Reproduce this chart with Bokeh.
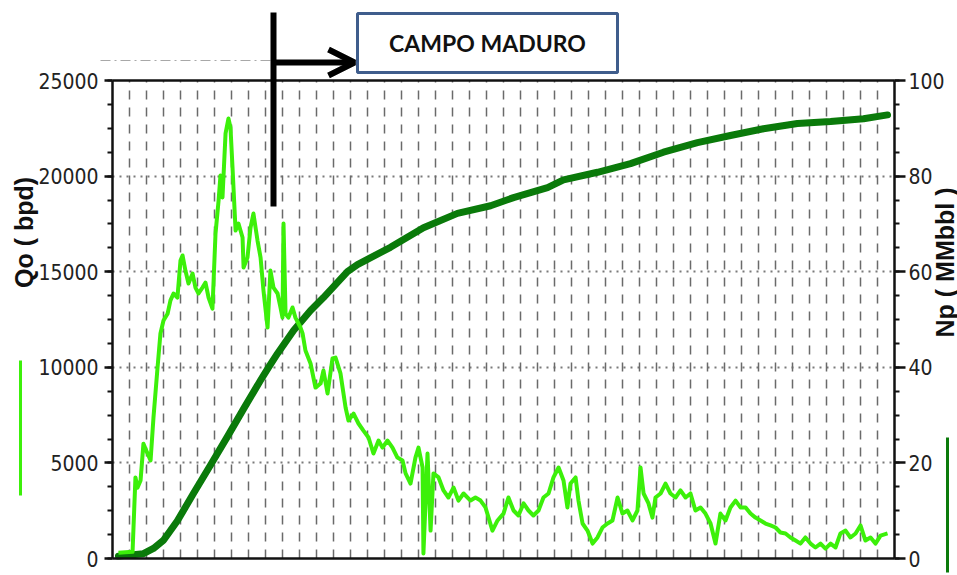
import math
from bokeh.plotting import figure
from bokeh.models import (Range1d, LinearAxis, FixedTicker, Grid, Arrow, OpenHead,
                          BoxAnnotation, Label)
from bokeh.embed import file_html
from bokeh.resources import INLINE

# ---------------- data (time in years from start of production) ----------------
qo_t = [0.35, 1.18, 1.35, 1.47, 1.65, 1.82, 2.06, 2.24, 2.41, 2.65, 2.82, 3.00, 3.24, 3.41,
        3.59, 3.82, 4.00, 4.12, 4.29, 4.47, 4.71, 4.88, 5.06, 5.29, 5.47, 5.65, 5.88, 6.06,
        6.24, 6.35, 6.47, 6.65, 6.82, 6.94, 7.06, 7.24, 7.41, 7.65, 7.71, 7.94, 8.12, 8.29,
        8.53, 8.71, 8.88, 9.12, 9.29, 9.47, 9.71, 9.88, 10.00, 10.06, 10.18, 10.35, 10.59,
        10.76, 11.06, 11.18, 11.35, 11.65, 11.94, 12.24, 12.41, 12.65, 12.94, 13.12, 13.41,
        13.71, 13.88, 14.18, 14.47, 14.76, 15.06, 15.35, 15.65, 15.88, 16.18, 16.47, 16.76,
        17.06, 17.24, 17.53, 17.82, 18.00, 18.24, 18.29, 18.53, 18.71, 18.88, 19.18, 19.47,
        19.76, 20.06, 20.35, 20.65, 21.06, 21.35, 21.65, 21.94, 22.35, 22.65, 23.00, 23.29,
        23.59, 23.88, 24.18, 24.47, 24.76, 25.06, 25.35, 25.65, 25.94, 26.24, 26.53, 26.76,
        26.94, 27.24, 27.41, 27.65, 27.94, 28.24, 28.53, 28.82, 29.12, 29.41, 29.71, 30.00,
        30.29, 30.59, 30.88, 31.06, 31.24, 31.53, 31.76, 31.94, 32.24, 32.53, 32.82, 33.12,
        33.41, 33.71, 34.00, 34.29, 34.59, 34.88, 35.18, 35.47, 35.76, 36.06, 36.35, 36.65,
        36.94, 37.24, 37.53, 37.82, 38.12, 38.41, 38.71, 39.00, 39.29, 39.59, 39.88, 40.18,
        40.47, 40.76, 41.06, 41.35, 41.65, 41.94, 42.24, 42.53, 42.82, 43.12, 43.41, 43.71,
        44.00, 44.29, 44.59, 44.88, 45.18, 45.59]
qo_bpd = [300, 350, 4240, 3700, 4080, 6000, 5490, 5130, 7370, 10000, 11770, 12450, 12800, 13500,
          13860, 13650, 15590, 15850, 15060, 14380, 14900, 14170, 13860, 14170, 14430, 13650, 13070, 17000,
          18720, 20030, 18880, 22230, 23010, 22540, 20450, 17150, 17520, 16790, 15220, 15740, 17310, 18040,
          16630, 15740, 14020, 12080, 15060, 14170, 13860, 13130, 12600, 17520, 12800, 12600, 13130,
          12600, 12080, 11770, 10880, 10200, 8940, 9150, 9830, 8630, 10460, 10510, 9680,
          7900, 7220, 7580, 7060, 6690, 6330, 5490, 6170, 5800, 6170, 5800, 5280,
          5130, 4450, 3920, 5280, 5800, 4760, 260, 5490, 1460, 4450, 4240, 3560,
          3190, 3710, 3030, 3400, 3030, 3190, 3030, 2670, 1460, 1990, 2350, 3190,
          2510, 2250, 2880, 2510, 2250, 2510, 3190, 3400, 4240, 4760, 4080, 2670,
          3920, 4240, 3030, 1830, 1460, 780, 1100, 1620, 1830, 1990, 3190, 2350,
          2510, 1990, 2510, 4760, 3400, 2880, 2140, 3190, 3400, 3920, 3400, 3190,
          3560, 3190, 3400, 2510, 2670, 2350, 1830, 780, 2350, 1990, 2670, 3030,
          2670, 2670, 2350, 2140, 1990, 1830, 1730, 1620, 1360, 1310, 1100, 940,
          780, 1100, 780, 575, 780, 520, 780, 575, 1310, 1460, 1100, 1310,
          1730, 940, 1100, 780, 1200, 1310]

np_t = [0.35, 1.82, 2.41, 3.00, 3.82, 4.76, 5.76, 6.76, 7.71, 8.71, 9.18, 9.71, 10.65, 11.65,
        12.41, 13.82, 14.41, 16.35, 18.29, 20.29, 22.24, 23.59, 25.59, 26.53, 28.53, 30.47,
        32.41, 34.41, 36.35, 38.29, 40.29, 42.24, 44.18, 45.59]
np_mmbbl = [0.5, 1.0, 2.1, 3.8, 7.9, 13.6, 19.5, 25.5, 31.3, 37.3, 40.0, 42.9, 47.7, 51.9,
            54.6, 60.0, 61.5, 65.1, 69.2, 72.2, 73.8, 75.5, 77.6, 79.2, 80.8, 82.6,
            85.0, 87.0, 88.5, 89.9, 91.0, 91.4, 92.0, 92.8]

qo_ticks = [0, 5000, 10000, 15000, 20000, 25000]
qo_minor = [i * 1250 for i in range(21)]
np_ticks = [0, 20, 40, 60, 80, 100]
np_minor = [i * 5 for i in range(21)]
year_grid = list(range(1, 46))
T_MAX = 46
QO_MAX = 25000
NP_MAX = 100

# ---------------- layout & styles ----------------
QO_COLOR = "#3cf00a"
NP_COLOR = "#0a7a0a"
TICK_FONT = "DejaVu Sans Condensed"
LABEL_FONT = "Liberation Sans"

W, H = 957, 575
F_LEFT, F_RIGHT, F_TOP, F_BOTTOM = 112, 894, 80, 558   # data area in canvas pixels
PX_X = T_MAX / (F_RIGHT - F_LEFT)
PX_Y = QO_MAX / (F_BOTTOM - F_TOP)
PX_N = NP_MAX / (F_BOTTOM - F_TOP)


def dx(px):
    return (px - F_LEFT) * PX_X


def dy(py):
    return (F_BOTTOM - py) * PX_Y


p = figure(width=W, height=H, output_backend="svg", toolbar_location=None,
           x_range=Range1d(dx(0), dx(W)), y_range=Range1d(dy(H), dy(0)),
           x_axis_location=None, y_axis_location=None, title=None)
p.center = [r for r in p.center if not isinstance(r, Grid)]
p.min_border = 0
p.min_border_left = p.min_border_right = p.min_border_top = p.min_border_bottom = 0
p.background_fill_color = "white"
p.border_fill_color = "white"
p.outline_line_color = None
p.extra_y_ranges = {"np": Range1d((F_BOTTOM - H) * PX_N, F_BOTTOM * PX_N)}


def style_axis(ax):
    ax.axis_line_color = "#111111"
    ax.axis_line_width = 2.5
    ax.major_tick_line_color = "#111111"
    ax.major_tick_line_width = 2.5
    ax.major_tick_in = 0
    ax.minor_tick_line_color = "#111111"
    ax.minor_tick_line_width = 2
    ax.minor_tick_in = 0
    ax.minor_tick_out = 5
    ax.major_label_text_font = TICK_FONT
    ax.major_label_text_font_size = "21px"
    ax.major_label_text_color = "#222222"


ya = LinearAxis(fixed_location=0, bounds=(0, QO_MAX),
                ticker=FixedTicker(ticks=qo_ticks, minor_ticks=qo_minor))
style_axis(ya)
ya.major_tick_out = 8
ya.major_label_standoff = 6
p.add_layout(ya, "left")

ra = LinearAxis(y_range_name="np", fixed_location=T_MAX, bounds=(0, NP_MAX),
                ticker=FixedTicker(ticks=np_ticks, minor_ticks=np_minor))
style_axis(ra)
ra.major_tick_out = 11
ra.major_label_standoff = 3
p.add_layout(ra, "right")

# frame top and bottom edges as bare axes
for loc, side in ((QO_MAX, "above"), (0, "below")):
    xa = LinearAxis(fixed_location=loc, bounds=(0, T_MAX),
                    ticker=FixedTicker(ticks=[], minor_ticks=[]))
    xa.axis_line_color = "#111111"
    xa.axis_line_width = 2.5
    xa.major_label_text_alpha = 0
    p.add_layout(xa, side)

# grids
yg = Grid(dimension=1, ticker=FixedTicker(ticks=qo_ticks[1:-1]), cross_bounds=(0, T_MAX),
          grid_line_color="#7a7a7a", grid_line_width=2, grid_line_dash="2 5")
p.add_layout(yg)
xg = Grid(dimension=0, ticker=FixedTicker(ticks=year_grid), cross_bounds=(0, QO_MAX),
          grid_line_color="#6a6a6a", grid_line_width=1.5, grid_line_dash="9 8")
p.add_layout(xg)

# curves
p.line(np_t, np_mmbbl, y_range_name="np", line_color=NP_COLOR, line_width=7,
       line_join="round", line_cap="round")
p.line(qo_t, qo_bpd, line_color=QO_COLOR, line_width=4, line_join="round")

# ---------------- annotations ----------------
p.add_layout(Arrow(end=None, x_start=dx(100), y_start=dy(60), x_end=dx(434), y_end=dy(60),
                   line_color="#a8a8a8", line_width=1.2, line_dash="10 4 2 4"))

p.add_layout(BoxAnnotation(left=dx(357), right=dx(617), top=dy(13), bottom=dy(72),
                           fill_color="white", fill_alpha=1.0,
                           line_color="#3f5d8c", line_alpha=1.0, line_width=3))
p.add_layout(Label(x=dx(487), y=dy(42), text="CAMPO MADURO", text_font="Lato",
                   text_font_style="bold", text_font_size="23px", text_color="#111111",
                   text_align="center", text_baseline="middle"))

p.add_layout(Arrow(end=None, x_start=dx(273), y_start=dy(12), x_end=dx(273), y_end=dy(206),
                   line_color="black", line_width=6))
p.add_layout(Arrow(end=OpenHead(size=26, line_width=6, line_color="black"),
                   x_start=dx(273), y_start=dy(62), x_end=dx(354), y_end=dy(62),
                   line_color="black", line_width=6))

p.add_layout(Label(x=dx(23), y=dy(232), text="Qo ( bpd)", angle=math.pi / 2,
                   text_font=LABEL_FONT, text_font_style="bold", text_font_size="25px",
                   text_color="#111111", text_align="center", text_baseline="middle"))
p.add_layout(Arrow(end=None, x_start=dx(20), y_start=dy(360), x_end=dx(20), y_end=dy(495),
                   line_color=QO_COLOR, line_width=3))
p.add_layout(Label(x=dx(944), y=dy(262), text="Np ( MMbbl )", angle=math.pi / 2,
                   text_font=LABEL_FONT, text_font_style="bold", text_font_size="25px",
                   text_color="#111111", text_align="center", text_baseline="middle"))
p.add_layout(Arrow(end=None, x_start=dx(947), y_start=dy(437), x_end=dx(947), y_end=dy(572),
                   line_color=NP_COLOR, line_width=3))

open("out.html", "w").write(file_html(p, INLINE))
